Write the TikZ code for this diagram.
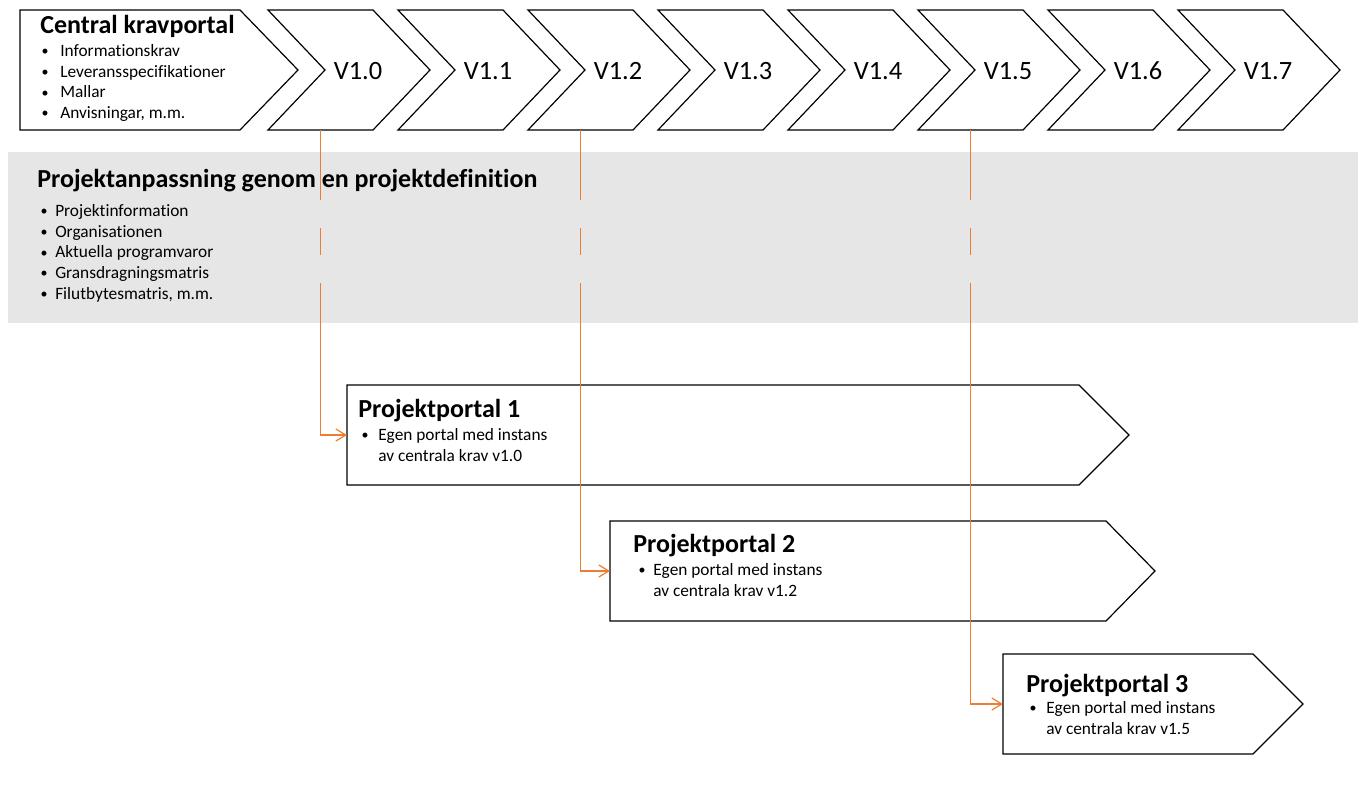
\documentclass[tikz,border=0pt]{standalone}
\usepackage{fontspec}
\setmainfont[Ligatures=NoCommon]{Carlito}
\usetikzlibrary{arrows.meta,calc}
\definecolor{bandgray}{HTML}{E6E6E6}
\definecolor{connorange}{HTML}{ED7D31}
\newcommand{\bul}[2]{\makebox[#1][l]{\hspace{1pt}\raisebox{0.6pt}{\fontsize{10.5}{10.5}\selectfont\textbullet}}#2}
\begin{document}
\begin{tikzpicture}[x=0.75pt,y=-0.75pt,
  box/.style={inner sep=0pt, outer sep=0pt, draw=none},
  shapeline/.style={draw=black, line width=0.9pt, fill=white, line join=miter},
  ttl/.style={anchor=base west, inner sep=0pt, font=\fontsize{19.5}{23}\selectfont\bfseries},
  itm/.style={anchor=base west, inner sep=0pt, font=\fontsize{13}{15.5}\selectfont},
  vlab/.style={anchor=base, inner sep=0pt, font=\fontsize{19.8}{24}\selectfont},
  connector/.style={draw=connorange, line width=0.9pt, -{Straight Barb[length=7.5pt,width=9pt]}},
  brk/.style={dash pattern=on 52.5pt off 21pt on 20.25pt off 21pt on 2000pt}]
\useasboundingbox (0,0) rectangle (1365,793);

% grey band
\node[box, fill=bandgray, anchor=north west, minimum width=1012.5pt, minimum height=128.25pt] (band) at (8,152) {};
\node[ttl] (bandT) at (37,187) {Projektanpassning genom en projektdefinition};
\node[itm] (b0) at (39,216.5) {\bul{12pt}{Projektinformation}};
\node[itm] (b1) at (39,237.2) {\bul{12pt}{Organisationen}};
\node[itm] (b2) at (39,257.9) {\bul{12pt}{Aktuella programvaror}};
\node[itm] (b3) at (39,278.6) {\bul{12pt}{Gransdragningsmatris}};
\node[itm] (b4) at (39,299.3) {\bul{12pt}{Filutbytesmatris, m.m.}};

% central portal
\node[box, minimum width=165pt, minimum height=90pt] (cent) at (130,70) {};
\draw[shapeline] (cent.north west) -- (cent.north east) -- ($(cent.east)+(58,0)$) -- (cent.south east) -- (cent.south west) -- cycle;
\node[ttl] (centT) at (40,33) {Central kravportal};
\node[itm] (c0) at (40,56.5) {\bul{15pt}{Informationskrav}};
\node[itm] (c1) at (40,77.2) {\bul{15pt}{Leveransspecifikationer}};
\node[itm] (c2) at (40,97.9) {\bul{15pt}{Mallar}};
\node[itm] (c3) at (40,118.6) {\bul{15pt}{Anvisningar, m.m.}};

% version chevrons
\foreach \n/\lab [count=\i from 0] in {v10/V1.0, v11/V1.1, v12/V1.2, v13/V1.3, v14/V1.4, v15/V1.5, v16/V1.6, v17/V1.7} {
  \node[box, minimum width=78.75pt, minimum height=90pt] (\n) at (320.5+130*\i, 70) {};
  \draw[shapeline] (\n.north west) -- (\n.north east) -- ($(\n.east)+(57,0)$) -- (\n.south east) -- (\n.south west) -- ($(\n.west)+(57,0)$) -- cycle;
  \node[vlab] (\n-t) at ($(\n.center)+(37.5,9)$) {\lab};
}

% project portals
\node[box, minimum width=549pt, minimum height=75pt] (p1) at (713,435) {};
\draw[shapeline] (p1.north west) -- (p1.north east) -- ($(p1.east)+(50,0)$) -- (p1.south east) -- (p1.south west) -- cycle;
\node[ttl] (p1T) at (358,417) {Projektportal 1};
\node[itm] (p1a) at (360,440) {\bul{13.5pt}{Egen portal med instans}};
\node[itm] (p1b) at (378,461) {av centrala krav v1.0};

\node[box, minimum width=372pt, minimum height=75pt] (p2) at (858,571) {};
\draw[shapeline] (p2.north west) -- (p2.north east) -- ($(p2.east)+(49,0)$) -- (p2.south east) -- (p2.south west) -- cycle;
\node[ttl] (p2T) at (633,552) {Projektportal 2};
\node[itm] (p2a) at (637,575) {\bul{12pt}{Egen portal med instans}};
\node[itm] (p2b) at (653,596) {av centrala krav v1.2};

\node[box, minimum width=187.5pt, minimum height=75pt] (p3) at (1128,704) {};
\draw[shapeline] (p3.north west) -- (p3.north east) -- ($(p3.east)+(50,0)$) -- (p3.south east) -- (p3.south west) -- cycle;
\node[ttl] (p3T) at (1026,692) {Projektportal 3};
\node[itm] (p3a) at (1028,713) {\bul{13.5pt}{Egen portal med instans}};
\node[itm] (p3b) at (1046,734) {av centrala krav v1.5};

% connectors
\draw[connector, brk] (v10.south) |- (p1.west);
\draw[connector, brk] (v12.south) |- (p2.west);
\draw[connector, brk] (v15.south) |- (p3.west);
\end{tikzpicture}
\end{document}
